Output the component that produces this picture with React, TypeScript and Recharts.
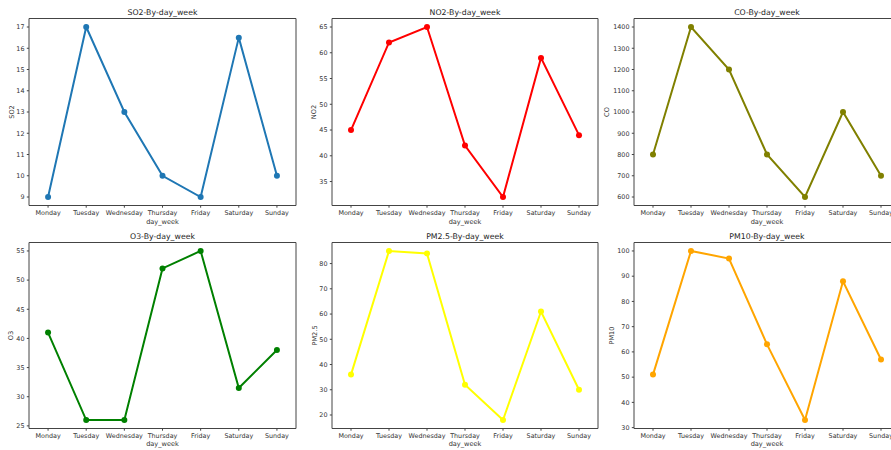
import React from 'react';
import { LineChart, Line, XAxis, YAxis } from 'recharts';

const days = ['Monday', 'Tuesday', 'Wednesday', 'Thursday', 'Friday', 'Saturday', 'Sunday'];

const so2 = [9, 17, 13, 10, 9, 16.5, 10];
const no2 = [45, 62, 65, 42, 32, 59, 44];
const co = [800, 1400, 1200, 800, 600, 1000, 700];
const o3 = [41, 26, 26, 52, 55, 31.5, 38];
const pm25 = [36, 85, 84, 32, 18, 61, 30];
const pm10 = [51, 100, 97, 63, 33, 88, 57];

const so2Ticks = [9, 10, 11, 12, 13, 14, 15, 16, 17];
const no2Ticks = [35, 40, 45, 50, 55, 60, 65];
const coTicks = [600, 700, 800, 900, 1000, 1100, 1200, 1300, 1400];
const o3Ticks = [25, 30, 35, 40, 45, 50, 55];
const pm25Ticks = [20, 30, 40, 50, 60, 70, 80];
const pm10Ticks = [30, 40, 50, 60, 70, 80, 90, 100];

const W = 910;
const H = 450;
const FONT = 'DejaVu Sans, sans-serif';
const AX = 20; // axis reserved size

// padded domain like matplotlib's 5% autoscale margin
const padDomain = (vals: number[]) => {
  const mn = Math.min(...vals);
  const mx = Math.max(...vals);
  const m = (mx - mn) * 0.05;
  return [mn - m, mx + m];
};

const rows = [
  { top: 18.5, bottom: 205.5, titleY: 12.5, xLabelY: 221.5 },
  { top: 242.5, bottom: 428.5, titleY: 236, xLabelY: 444.3 },
];
const cols = [
  { left: 29, right: 296 },
  { left: 332, right: 598 },
  { left: 634, right: 900 },
];

const panels = [
  { name: 'SO2', values: so2, ticks: so2Ticks, color: '#1f77b4', row: 0, col: 0, yLabelX: 11.5 },
  { name: 'NO2', values: no2, ticks: no2Ticks, color: '#ff0000', row: 0, col: 1, yLabelX: 314 },
  { name: 'CO', values: co, ticks: coTicks, color: '#808000', row: 0, col: 2, yLabelX: 607.3 },
  { name: 'O3', values: o3, ticks: o3Ticks, color: '#008000', row: 1, col: 0, yLabelX: 11 },
  { name: 'PM2.5', values: pm25, ticks: pm25Ticks, color: '#ffff00', row: 1, col: 1, yLabelX: 315 },
  { name: 'PM10', values: pm10, ticks: pm10Ticks, color: '#ffa500', row: 1, col: 2, yLabelX: 611.7 },
];

const tickStyle = { fontSize: 6.4, fill: '#333', fontFamily: FONT };
const frameColor = '#444';

function Panel({ p }: { p: any }) {
  const r = rows[p.row];
  const c = cols[p.col];
  const data = days.map((d, i) => ({ day: d, v: p.values[i] }));
  const domain = padDomain(p.values);
  const margin = { top: r.top - AX, bottom: H - r.bottom - AX, left: c.left - AX, right: W - c.right - AX };
  const midY = (r.top + r.bottom) / 2;
  const midX = (c.left + c.right) / 2;
  return (
    <div style={{ position: 'absolute', left: 0, top: 0 }}>
      <LineChart width={W} height={H} data={data} margin={margin}>
        <XAxis
          dataKey="day"
          scale="band"
          height={AX}
          interval={0}
          tickSize={2.2}
          tickMargin={3}
          tick={tickStyle}
          tickLine={{ stroke: frameColor }}
          axisLine={{ stroke: frameColor }}
        />
        <XAxis
          xAxisId="top"
          dataKey="day"
          scale="band"
          orientation="top"
          height={AX}
          tick={false}
          tickLine={false}
          axisLine={{ stroke: frameColor }}
        />
        <YAxis
          width={AX}
          type="number"
          domain={domain}
          ticks={p.ticks}
          interval={0}
          tickSize={2.2}
          tickMargin={2.3}
          tick={tickStyle}
          tickLine={{ stroke: frameColor }}
          axisLine={{ stroke: frameColor }}
          allowDataOverflow
        />
        <YAxis
          yAxisId="right"
          orientation="right"
          width={AX}
          type="number"
          domain={domain}
          tick={false}
          tickLine={false}
          axisLine={{ stroke: frameColor }}
        />
        <Line
          dataKey="v"
          stroke={p.color}
          strokeWidth={2}
          dot={{ r: 3, fill: p.color, stroke: p.color, strokeWidth: 0 }}
          activeDot={false}
          isAnimationActive={false}
        />
      </LineChart>
      <svg width={W} height={H} style={{ position: 'absolute', left: 0, top: 0, pointerEvents: 'none' }}>
        <text x={midX} y={r.titleY} textAnchor="middle" dominantBaseline="central" fontSize={7.8} fill="#262626" fontFamily={FONT}>
          {p.name + '-By-day_week'}
        </text>
        <text x={midX} y={r.xLabelY} textAnchor="middle" dominantBaseline="central" fontSize={6.6} fill="#333" fontFamily={FONT}>
          day_week
        </text>
        <text
          x={p.yLabelX}
          y={midY}
          transform={`rotate(-90 ${p.yLabelX} ${midY})`}
          textAnchor="middle"
          dominantBaseline="central"
          fontSize={6.6}
          fill="#333"
          fontFamily={FONT}
        >
          {p.name}
        </text>
      </svg>
    </div>
  );
}

export default function App() {
  return (
    <div style={{ position: 'absolute', left: 0, top: 0, width: 891, height: 450, overflow: 'hidden', background: '#fff' }}>
      {panels.map((p) => (
        <Panel key={p.name} p={p} />
      ))}
    </div>
  );
}
